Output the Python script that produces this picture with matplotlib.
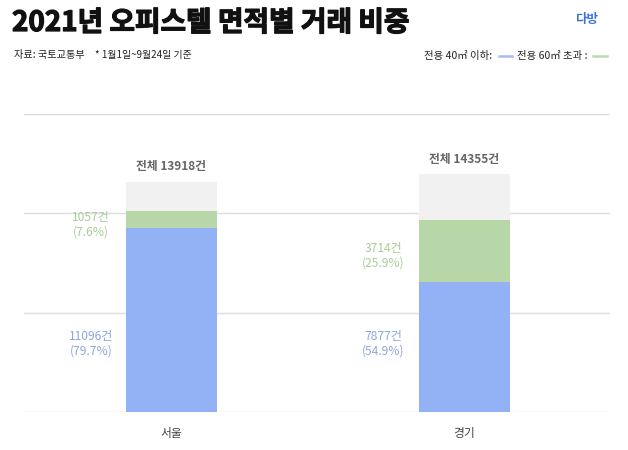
import matplotlib
matplotlib.use("Agg")
import matplotlib.pyplot as plt
import matplotlib.patheffects as pe

plt.rcParams['font.family'] = ['Noto Sans CJK KR', 'DejaVu Sans']

categories = ["서울", "경기"]
small_area = [11096, 7877]          # 전용 40㎡ 이하
large_area = [1057, 3714]           # 전용 60㎡ 초과
totals = [13918, 14355]
small_pct = [79.7, 54.9]
large_pct = [7.6, 25.9]

BLUE = "#93b1f5"
GREEN = "#b7d7a8"
GRAY = "#f1f1f1"
BLUE_TXT = "#8fa6dd"
GREEN_TXT = "#a9cc99"

fig = plt.figure(figsize=(6.28, 4.5), dpi=100)
ax = fig.add_axes([24/628, 38/450, 586/628, 298/450])

x = list(range(len(categories)))
w = 0.311
ax.bar(x, totals, width=w, color=GRAY, zorder=2)
ax.bar(x, small_area, width=w, color=BLUE, zorder=3)
ax.bar(x, large_area, width=w, bottom=small_area, color=GREEN, zorder=3)

ax.set_xlim(-0.504, 1.499)
ax.set_ylim(0, 18000)
ax.set_yticks([0, 6000, 12000, 18000])
ax.yaxis.grid(True, color="#dedede", linewidth=1.0, zorder=0)
ax.tick_params(left=False, bottom=False, labelleft=False, labelbottom=False)
for s in ax.spines.values():
    s.set_visible(False)

for i in x:
    ax.annotate(f"전체 {totals[i]}건", (i, totals[i]), xytext=(0, 6),
                textcoords="offset points", ha="center", va="bottom",
                fontsize=8.5, fontweight="bold", color="#666666")
    gy = small_area[i] + large_area[i] / 2 - 300
    ax.text(i - 0.275, gy, f"{large_area[i]}건\n({large_pct[i]}%)",
            ha="center", va="center", fontsize=8.7, color=GREEN_TXT,
            linespacing=1.15)
    ax.text(i - 0.275, 4150, f"{small_area[i]}건\n({small_pct[i]}%)",
            ha="center", va="center", fontsize=8.7, color=BLUE_TXT,
            linespacing=1.15)
    ax.text(i, -1300, categories[i], ha="center", va="center",
            fontsize=8.5, color="#444444")

fig.text(12/628, 1 - 23/450, "2021년 오피스텔 면적별 거래 비중", fontsize=20,
         fontweight="bold", color="#111111", va="center", ha="left",
         path_effects=[pe.withStroke(linewidth=0.9, foreground="#111111")])
fig.text(14/628, 1 - 55/450, "자료: 국토교통부", fontsize=7.3, color="#222222",
         va="center", ha="left")
fig.text(95/628, 1 - 55/450, "* 1월1일~9월24일 기준", fontsize=7.1,
         color="#222222", va="center", ha="left")
fig.text(587/628, 1 - 20/450, "다방", fontsize=9, fontweight="bold",
         color="#3b6fe0", va="center", ha="center")

# legend
fig.text(424/628, 1 - 56/450, "전용 40㎡ 이하:", fontsize=7.5,
         color="#222222", va="center", ha="left")
fig.add_artist(plt.Line2D([499/628, 512/628], [1 - 56/450, 1 - 56/450],
                          color="#a8bdf0", linewidth=1.8, transform=fig.transFigure))
fig.text(517/628, 1 - 56/450, "전용 60㎡ 초과 :", fontsize=7.5,
         color="#222222", va="center", ha="left")
fig.add_artist(plt.Line2D([593/628, 607/628], [1 - 56/450, 1 - 56/450],
                          color="#bcd9ae", linewidth=1.8, transform=fig.transFigure))

fig.savefig("out.png", dpi=100, facecolor="white")
